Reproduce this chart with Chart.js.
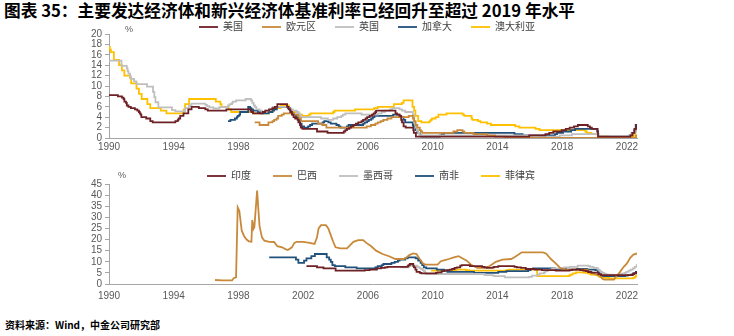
<!DOCTYPE html>
<html>
<head>
<meta charset="utf-8">
<script src="https://cdn.jsdelivr.net/npm/chart.js@4.4.0/dist/chart.umd.min.js"></script>
<style>
    body { margin: 0; width: 734px; height: 336px; background: #fff; position: relative; overflow: hidden; }
    .title { position: absolute; left: 4px; top: 0; font: bold 16.7px/20px "Noto Sans CJK SC", sans-serif; color: #000; white-space: nowrap; }
    .source { position: absolute; left: 5px; top: 318px; font: bold 10px/14px "Noto Sans CJK SC", sans-serif; color: #000; white-space: nowrap; }
    canvas { position: absolute; left: 0; }
    #topChart { top: 3px; }
    #bottomChart { top: 149px; }
</style>
</head>
<body>
<div class="title">图表 35：主要发达经济体和新兴经济体基准利率已经回升至超过 2019 年水平</div>
<canvas id="topChart" width="734" height="153"></canvas>
<canvas id="bottomChart" width="734" height="159"></canvas>
<div class="source">资料来源：Wind，中金公司研究部</div>

<script>
// tick labels
var xTicks = [1990, 1994, 1998, 2002, 2006, 2010, 2014, 2018, 2022];

// developed economies: [year, policy rate %]
var topNames = ['美国', '欧元区', '英国', '加拿大', '澳大利亚'];

var usRate = [[1990.0,8.25],[1990.55,8.0],[1990.8,7.75],[1990.9,7.5],[1990.95,7.0],[1991.05,6.75],[1991.1,6.25],[1991.2,6.0],[1991.35,5.75],[1991.6,5.5],[1991.75,5.25],[1991.85,5.0],[1991.9,4.75],[1991.95,4.5],[1992.0,4.0],[1992.3,3.75],[1992.55,3.25],[1992.7,3.0],[1994.1,3.25],[1994.25,3.5],[1994.3,3.75],[1994.4,4.25],[1994.6,4.75],[1994.9,5.5],[1995.1,6.0],[1995.55,5.75],[1995.95,5.5],[1996.1,5.25],[1997.25,5.5],[1998.75,5.25],[1998.8,5.0],[1998.9,4.75],[1999.5,5.0],[1999.65,5.25],[1999.9,5.5],[2000.1,5.75],[2000.25,6.0],[2000.4,6.5],[2001.0,6.0],[2001.1,5.5],[2001.2,5.0],[2001.3,4.5],[2001.4,4.0],[2001.5,3.75],[2001.65,3.5],[2001.7,3.0],[2001.8,2.5],[2001.85,2.0],[2001.95,1.75],[2002.85,1.25],[2003.5,1.0],[2004.5,1.25],[2004.6,1.5],[2004.7,1.75],[2004.85,2.0],[2004.95,2.25],[2005.1,2.5],[2005.25,2.75],[2005.4,3.0],[2005.6,3.25],[2005.7,3.5],[2005.85,3.75],[2005.95,4.0],[2006.1,4.25],[2006.25,4.5],[2006.35,4.75],[2006.45,5.0],[2006.5,5.25],[2007.7,4.75],[2007.8,4.5],[2007.95,4.25],[2008.05,3.5],[2008.1,3.0],[2008.2,2.25],[2008.33,2.0],[2008.8,1.5],[2008.83,1.0],[2008.96,0.25],[2015.96,0.5],[2016.96,0.75],[2017.2,1.0],[2017.45,1.25],[2017.96,1.5],[2018.22,1.75],[2018.46,2.0],[2018.73,2.25],[2018.97,2.5],[2019.58,2.25],[2019.71,2.0],[2019.83,1.75],[2020.17,1.25],[2020.21,0.25],[2022.21,0.5],[2022.34,1.0],[2022.46,1.75],[2022.57,2.5],[2022.62,2.5]];

var euroRate = [[1999.0,3.0],[1999.3,2.5],[1999.85,3.0],[2000.1,3.25],[2000.2,3.5],[2000.35,3.75],[2000.45,4.25],[2000.67,4.5],[2000.8,4.75],[2001.37,4.5],[2001.66,4.25],[2001.72,3.75],[2001.86,3.25],[2002.92,2.75],[2003.18,2.5],[2003.43,2.0],[2005.92,2.25],[2006.18,2.5],[2006.45,2.75],[2006.6,3.0],[2006.78,3.25],[2006.95,3.5],[2007.2,3.75],[2007.45,4.0],[2008.52,4.25],[2008.77,3.75],[2008.85,3.25],[2008.94,2.5],[2009.05,2.0],[2009.2,1.5],[2009.27,1.25],[2009.35,1.0],[2011.27,1.25],[2011.52,1.5],[2011.84,1.25],[2011.95,1.0],[2012.52,0.75],[2013.35,0.5],[2013.85,0.25],[2014.44,0.15],[2014.68,0.05],[2016.2,0.0],[2022.56,0.5],[2022.62,0.5]];

var ukRate = [[1990.0,14.875],[1990.77,13.875],[1991.1,13.375],[1991.15,12.875],[1991.2,12.375],[1991.3,11.875],[1991.35,11.375],[1991.55,10.875],[1991.7,10.375],[1992.35,9.875],[1992.72,8.875],[1992.8,7.875],[1992.87,6.875],[1993.05,5.875],[1993.89,5.375],[1994.1,5.125],[1994.7,5.75],[1994.94,6.25],[1995.09,6.625],[1995.95,6.375],[1996.05,6.125],[1996.2,5.875],[1996.45,5.688],[1996.82,5.938],[1997.35,6.25],[1997.45,6.5],[1997.6,6.75],[1997.65,7.0],[1997.85,7.25],[1998.44,7.5],[1998.77,7.25],[1998.85,6.75],[1998.94,6.25],[1999.02,6.0],[1999.1,5.5],[1999.3,5.25],[1999.45,5.0],[1999.68,5.25],[1999.88,5.5],[2000.04,5.75],[2000.12,6.0],[2001.1,5.75],[2001.15,5.5],[2001.35,5.25],[2001.6,5.0],[2001.7,4.75],[2001.76,4.5],[2001.85,4.0],[2003.1,3.75],[2003.52,3.5],[2003.85,3.75],[2004.1,4.0],[2004.35,4.25],[2004.45,4.5],[2004.6,4.75],[2005.6,4.5],[2006.6,4.75],[2006.85,5.0],[2007.05,5.25],[2007.35,5.5],[2007.5,5.75],[2007.95,5.5],[2008.1,5.25],[2008.3,5.0],[2008.77,4.5],[2008.85,3.0],[2008.93,2.0],[2009.02,1.5],[2009.1,1.0],[2009.18,0.5],[2016.6,0.25],[2017.85,0.5],[2018.6,0.75],[2020.19,0.25],[2020.22,0.1],[2021.96,0.25],[2022.1,0.5],[2022.25,0.75],[2022.35,1.0],[2022.46,1.25],[2022.6,1.75],[2022.62,1.75]];

var caRate = [[1997.35,3.25],[1997.5,3.5],[1997.78,3.75],[1997.9,4.0],[1997.95,4.25],[1998.05,4.5],[1998.1,5.0],[1998.6,6.0],[1998.72,5.75],[1998.8,5.5],[1998.9,5.25],[1999.2,5.0],[1999.35,4.75],[1999.87,5.0],[2000.1,5.25],[2000.2,5.5],[2000.37,6.0],[2001.05,5.75],[2001.2,5.25],[2001.3,4.75],[2001.4,4.5],[2001.55,4.25],[2001.6,4.0],[2001.7,3.5],[2001.8,2.75],[2001.9,2.25],[2002.05,2.0],[2002.3,2.25],[2002.42,2.5],[2002.55,2.75],[2003.2,3.0],[2003.3,3.25],[2003.55,3.0],[2003.7,2.75],[2004.05,2.5],[2004.2,2.25],[2004.3,2.0],[2004.7,2.25],[2004.8,2.5],[2005.7,2.75],[2005.8,3.0],[2005.95,3.25],[2006.05,3.5],[2006.2,3.75],[2006.3,4.0],[2006.4,4.25],[2007.55,4.5],[2007.95,4.25],[2008.05,4.0],[2008.2,3.5],[2008.3,3.0],[2008.77,2.5],[2008.8,2.25],[2008.93,1.5],[2009.05,1.0],[2009.2,0.5],[2009.3,0.25],[2010.43,0.5],[2010.55,0.75],[2010.7,1.0],[2015.05,0.75],[2015.55,0.5],[2017.55,0.75],[2017.68,1.0],[2018.05,1.25],[2018.55,1.5],[2018.8,1.75],[2020.18,1.25],[2020.21,0.75],[2020.23,0.25],[2022.2,0.5],[2022.3,1.0],[2022.45,1.5],[2022.54,2.5],[2022.62,2.5]];

var ausRate = [[1990.0,17.5],[1990.05,17.0],[1990.12,16.5],[1990.3,15.0],[1990.62,14.0],[1990.8,13.0],[1990.95,12.0],[1991.3,11.5],[1991.37,10.5],[1991.7,9.5],[1991.85,8.5],[1992.02,7.5],[1992.37,6.5],[1992.55,5.75],[1993.2,5.25],[1993.55,4.75],[1994.62,5.5],[1994.7,6.5],[1994.95,7.5],[1996.6,7.0],[1996.88,6.5],[1996.95,6.0],[1997.38,5.5],[1997.55,5.0],[1998.9,4.75],[1999.85,5.0],[2000.1,5.5],[2000.3,5.75],[2000.6,6.25],[2001.1,5.75],[2001.2,5.25],[2001.3,5.0],[2001.7,4.75],[2001.76,4.5],[2001.93,4.25],[2002.35,4.5],[2002.45,4.75],[2003.85,5.0],[2003.93,5.25],[2005.2,5.5],[2006.37,5.75],[2006.6,6.0],[2007.6,6.5],[2008.1,6.75],[2008.2,7.25],[2008.75,6.0],[2008.85,5.25],[2008.93,4.25],[2009.1,3.25],[2009.3,3.0],[2009.8,3.25],[2009.87,3.5],[2009.95,3.75],[2010.18,4.0],[2010.35,4.5],[2010.85,4.75],[2011.85,4.5],[2011.95,4.25],[2012.4,3.75],[2012.45,3.5],[2012.8,3.25],[2012.95,3.0],[2013.35,2.75],[2013.6,2.5],[2015.1,2.25],[2015.35,2.0],[2016.35,1.75],[2016.6,1.5],[2019.43,1.25],[2019.52,1.0],[2019.8,0.75],[2020.2,0.5],[2020.22,0.25],[2020.85,0.1],[2022.35,0.35],[2022.43,0.85],[2022.52,1.35],[2022.6,1.85],[2022.62,1.85]];

// emerging economies
var bottomNames = ['印度', '巴西', '墨西哥', '南非', '菲律宾'];

var inRate = [[2002.2,8.0],[2002.85,7.5],[2003.25,7.0],[2004.0,6.0],[2005.8,6.25],[2006.1,6.5],[2006.55,7.0],[2006.8,7.25],[2007.05,7.5],[2007.2,7.75],[2008.45,8.0],[2008.5,8.5],[2008.58,9.0],[2008.8,8.0],[2008.84,7.5],[2008.93,6.5],[2009.0,5.5],[2009.2,5.0],[2009.3,4.75],[2010.2,5.0],[2010.3,5.25],[2010.55,5.75],[2010.7,6.0],[2010.85,6.25],[2011.05,6.5],[2011.2,6.75],[2011.35,7.25],[2011.5,7.5],[2011.7,8.25],[2011.8,8.5],[2012.3,8.0],[2013.05,7.75],[2013.2,7.5],[2013.35,7.25],[2013.7,7.5],[2013.8,7.75],[2014.05,8.0],[2015.05,7.75],[2015.2,7.5],[2015.45,7.25],[2015.75,6.75],[2016.3,6.5],[2016.75,6.25],[2017.6,6.0],[2018.45,6.25],[2018.6,6.5],[2019.1,6.25],[2019.3,6.0],[2019.45,5.75],[2019.6,5.4],[2019.8,5.15],[2020.23,4.4],[2020.4,4.0],[2022.35,4.4],[2022.45,4.9],[2022.6,5.4],[2022.62,5.4]];

var brRate = [[1996.55,1.8],[1997.0,1.65],[1997.6,1.6],[1997.7,2.6],[1997.85,3.0],[1997.95,34.5],[1998.05,33.0],[1998.2,24.0],[1998.35,21.5],[1998.5,20.0],[1998.65,19.2],[1998.8,19.0],[1998.85,28.8],[1998.93,24.8],[1998.98,25.5],[1999.15,42.0],[1999.3,26.0],[1999.45,21.0],[1999.6,19.5],[1999.9,19.0],[2000.2,18.9],[2000.4,17.0],[2000.7,16.5],[2000.9,15.7],[2001.05,15.3],[2001.3,16.5],[2001.45,18.5],[2001.6,19.0],[2002.0,19.0],[2002.4,18.5],[2002.7,18.0],[2002.85,21.0],[2002.95,25.0],[2003.1,26.5],[2003.4,26.5],[2003.55,25.0],[2003.7,22.0],[2003.85,19.0],[2004.0,16.5],[2004.3,16.0],[2004.7,16.0],[2004.9,17.5],[2005.1,19.0],[2005.4,19.75],[2005.7,19.75],[2005.9,18.5],[2006.2,17.0],[2006.5,15.0],[2006.9,13.5],[2007.3,12.5],[2007.7,11.25],[2008.2,11.25],[2008.35,11.75],[2008.55,13.0],[2008.8,13.75],[2009.0,13.5],[2009.2,11.25],[2009.4,9.25],[2009.55,8.75],[2010.3,8.75],[2010.5,10.25],[2010.75,10.75],[2011.0,11.25],[2011.3,12.0],[2011.6,12.5],[2011.85,11.5],[2012.1,10.5],[2012.4,8.5],[2012.75,7.25],[2013.3,7.25],[2013.5,8.0],[2013.9,10.0],[2014.3,11.0],[2014.85,11.25],[2015.1,12.25],[2015.5,14.25],[2016.8,14.25],[2017.0,13.75],[2017.3,11.25],[2017.6,9.25],[2017.9,7.0],[2018.2,6.5],[2019.55,6.5],[2019.8,5.0],[2020.0,4.5],[2020.3,3.75],[2020.5,2.25],[2020.6,2.0],[2021.2,2.0],[2021.35,3.5],[2021.55,5.25],[2021.8,7.75],[2022.0,9.25],[2022.2,11.75],[2022.4,13.25],[2022.62,13.75]];

var mxRate = [[2008.0,7.5],[2008.47,7.75],[2008.55,8.0],[2008.6,8.25],[2009.05,7.75],[2009.13,7.5],[2009.2,7.0],[2009.3,6.75],[2009.38,6.25],[2009.45,5.75],[2009.53,5.25],[2009.55,4.75],[2009.6,4.5],[2013.2,4.0],[2013.7,3.75],[2013.82,3.5],[2014.45,3.0],[2015.96,3.25],[2016.13,3.75],[2016.5,4.25],[2016.6,4.75],[2016.88,5.25],[2016.96,5.75],[2017.1,6.25],[2017.23,6.5],[2017.37,6.75],[2017.48,7.0],[2017.96,7.25],[2018.13,7.5],[2018.47,7.75],[2018.96,8.25],[2019.62,8.0],[2019.72,7.75],[2019.88,7.5],[2019.96,7.25],[2020.13,7.0],[2020.22,6.5],[2020.3,6.0],[2020.37,5.5],[2020.47,5.0],[2020.6,4.5],[2020.73,4.25],[2021.12,4.0],[2021.48,4.25],[2021.62,4.5],[2021.72,4.75],[2021.87,5.0],[2021.96,5.5],[2022.1,6.0],[2022.23,6.5],[2022.37,7.0],[2022.48,7.75],[2022.6,8.5],[2022.62,8.5]];

var zaRate = [[1999.9,12.0],[2001.55,11.0],[2001.7,9.5],[2002.05,10.5],[2002.2,11.5],[2002.5,12.5],[2002.72,13.5],[2003.45,12.0],[2003.6,11.0],[2003.7,10.0],[2003.8,8.5],[2003.95,8.0],[2004.6,7.5],[2005.3,7.0],[2006.45,7.5],[2006.6,8.0],[2006.85,8.5],[2006.95,9.0],[2007.45,9.5],[2007.65,10.0],[2007.85,10.5],[2007.95,11.0],[2008.3,11.5],[2008.45,12.0],[2008.95,11.5],[2009.1,10.5],[2009.25,9.5],[2009.35,8.5],[2009.45,7.5],[2009.6,7.0],[2010.25,6.5],[2010.7,6.0],[2010.9,5.5],[2012.55,5.0],[2014.05,5.5],[2014.55,5.75],[2015.9,6.25],[2016.05,6.75],[2016.2,7.0],[2017.55,6.75],[2018.23,6.5],[2018.9,6.75],[2019.55,6.5],[2020.05,6.25],[2020.2,5.25],[2020.3,4.25],[2020.38,3.75],[2020.55,3.5],[2021.88,3.75],[2022.05,4.0],[2022.23,4.25],[2022.38,4.75],[2022.55,5.5],[2022.62,5.5]];

var phRate = [[2009.9,6.0],[2011.25,6.25],[2011.45,6.5],[2012.05,6.25],[2012.25,6.0],[2014.55,6.25],[2014.7,6.5],[2016.45,3.5],[2018.4,3.75],[2018.5,4.25],[2018.65,4.75],[2018.85,5.25],[2019.35,5.0],[2019.6,4.75],[2019.72,4.5],[2019.78,4.25],[2020.1,4.0],[2020.22,3.5],[2020.3,3.25],[2020.47,2.75],[2020.9,2.5],[2022.38,2.75],[2022.48,3.25],[2022.55,3.75],[2022.62,4.25]];

var colors = ['#6E2025', '#C8893A', '#BFBFBF', '#21507A', '#FFC000'];

Chart.defaults.font.family = "'Liberation Sans', 'Noto Sans CJK SC', sans-serif";
Chart.defaults.color = '#595959';

var unitLabel = {
    id: 'unitLabel',
    afterDraw: function (chart, args, opts) {
        var ctx = chart.ctx, area = chart.chartArea;
        ctx.save();
        ctx.font = "9px 'Liberation Sans'";
        ctx.fillStyle = '#595959';
        ctx.textAlign = 'center';
        ctx.textBaseline = 'middle';
        ctx.fillText('%', area.left + opts.dx, area.top - opts.dy);
        ctx.restore();
    }
};

// legend box spans the whole canvas so it centres on the page, not on the plot
var legendSpan = {
    id: 'legendSpan',
    afterLayout: function (chart, args, opts) {
        if (!chart.legend) return;
        chart.legend.left = opts.shift;
        chart.legend.right = chart.width + opts.shift;
    }
};

function makeChart(id, names, series, steppedFlags, yMax, yStep, legendHeight, labelPad, legendPad, shift, unit) {
    var datasets = series.map(function (s, i) {
        return {
            label: names[i],
            data: s.map(function (p) { return {x: p[0], y: p[1]}; }),
            borderColor: colors[i],
            backgroundColor: colors[i],
            borderWidth: 1.8,
            pointRadius: 0,
            stepped: steppedFlags[i],
            fill: false
        };
    });
    return new Chart(document.getElementById(id), {
        type: 'line',
        data: {datasets: datasets},
        options: {
            responsive: false,
            animation: false,
            events: [],
            layout: {padding: {left: 0, right: 97, top: 0, bottom: 0}},
            plugins: {
                legend: {
                    maxHeight: legendHeight,
                    labels: {
                        usePointStyle: true,
                        pointStyle: 'line',
                        pointStyleWidth: 19,
                        padding: legendPad,
                        color: '#404040',
                        font: {size: 10}
                    }
                },
                tooltip: {enabled: false},
                unitLabel: unit,
                legendSpan: {shift: shift}
            },
            scales: {
                x: {
                    type: 'linear',
                    min: 1990,
                    max: 2022.62,
                    afterBuildTicks: function (scale) {
                        scale.ticks = xTicks.map(function (v) { return {value: v}; });
                    },
                    ticks: {
                        padding: labelPad,
                        font: {size: 10},
                        color: '#595959',
                        maxRotation: 0,
                        autoSkip: false,
                        callback: function (v) { return String(v); }
                    },
                    grid: {display: false, drawTicks: false},
                    border: {color: '#A6A6A6', width: 1}
                },
                y: {
                    min: 0,
                    max: yMax,
                    afterFit: function (scale) { scale.width = 109; },
                    ticks: {stepSize: yStep, padding: 3, autoSkip: false, font: {size: 10}, color: '#595959'},
                    grid: {display: true, drawOnChartArea: false, drawTicks: true, tickLength: 4, color: '#A6A6A6'},
                    border: {color: '#A6A6A6', width: 1}
                }
            }
        },
        plugins: [unitLabel, legendSpan]
    });
}

makeChart('topChart', topNames,
    [usRate, euroRate, ukRate, caRate, ausRate],
    [true, true, true, true, true],
    20, 2, 31, 3, 19, 0, {dx: 20, dy: 4});

makeChart('bottomChart', bottomNames,
    [inRate, brRate, mxRate, zaRate, phRate],
    [true, false, true, true, true],
    45, 5, 35, 6, 22, 4, {dx: 13, dy: 8});
</script>
</body>
</html>
